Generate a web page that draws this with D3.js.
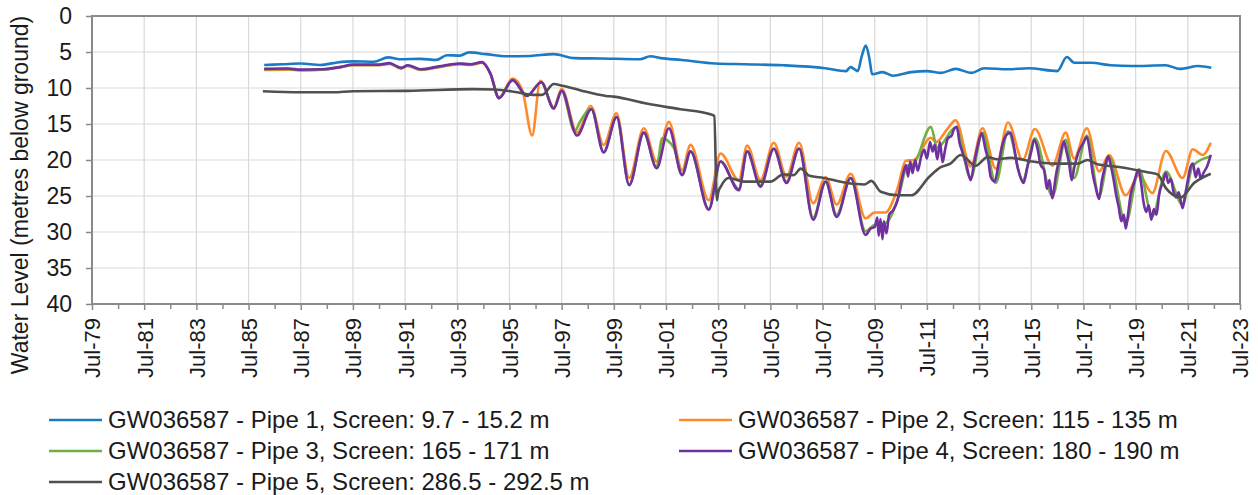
<!DOCTYPE html>
<html><head><meta charset="utf-8">
<script src="https://cdn.jsdelivr.net/npm/d3@7/dist/d3.min.js"></script>
<style>body{margin:0;background:#fff;} svg{display:block;} text{font-family:"Liberation Sans",Arial,sans-serif;fill:#1a1a1a;}</style>
</head><body><svg id="c" width="1258" height="495"></svg>
<script>
// ---- DATA (decimal year, metres below ground) ----
const xTickYears = d3.range(1979, 2024, 2);           // Jul-79 ... Jul-23
const yTicks = [0,5,10,15,20,25,30,35,40];
const seriesNames = [
  "GW036587 - Pipe 1, Screen: 9.7 - 15.2 m",
  "GW036587 - Pipe 2, Screen: 115 - 135 m",
  "GW036587 - Pipe 3, Screen: 165 - 171 m",
  "GW036587 - Pipe 4, Screen: 180 - 190 m",
  "GW036587 - Pipe 5, Screen: 286.5 - 292.5 m"
];
const pipe1 = [[1986.1,6.8],[1986.8,6.7],[1987.5,6.6],[1988.25,6.8],[1988.9,6.45],[1989.5,6.3],[1990.3,6.35],[1990.85,5.75],[1991.3,6.0],[1992.1,5.95],[1992.7,6.1],[1993.1,5.45],[1993.6,5.5],[1993.95,5.05],[1994.6,5.3],[1995.4,5.6],[1996.3,5.55],[1997.2,5.3],[1998.0,5.85],[1999.0,5.9],[2000.5,6.0],[2000.9,5.6],[2001.3,5.85],[2002.1,6.1],[2003.4,6.6],[2004.5,6.7],[2006.0,6.85],[2007.6,7.25],[2008.4,7.65],[2008.57,7.1],[2008.85,7.65],[2009.0,5.6],[2009.16,4.1],[2009.3,6.0],[2009.4,8.1],[2009.8,7.8],[2010.2,8.3],[2010.9,7.8],[2011.5,7.65],[2012.05,7.9],[2012.6,7.35],[2013.2,7.9],[2013.7,7.25],[2014.6,7.4],[2015.4,7.25],[2016.5,7.65],[2016.86,5.7],[2017.15,6.5],[2017.8,6.5],[2018.55,6.85],[2019.35,6.95],[2020.65,6.85],[2021.2,7.35],[2021.9,6.95],[2022.4,7.2]];
const pipe2 = [[1986.1,7.5],[1987.0,7.45],[1987.5,7.55],[1988.3,7.45],[1989.0,7.15],[1989.5,6.85],[1990.5,6.85],[1990.9,6.65],[1991.35,7.3],[1991.6,6.95],[1992.1,7.5],[1992.8,7.1],[1993.6,6.7],[1994.0,6.8],[1994.45,6.5],[1994.77,8.0],[1995.1,11.3],[1995.62,8.7],[1996.0,10.4],[1996.37,16.6],[1996.68,9.0],[1997.2,12.7],[1997.5,10.1],[1998.09,16.2],[1998.62,12.5],[1999.11,17.9],[1999.6,13.5],[2000.09,22.5],[2000.65,15.6],[2001.14,20.2],[2001.61,14.7],[2002.12,21.4],[2002.44,17.9],[2003.14,25.6],[2003.59,19.1],[2004.29,22.8],[2004.61,18.0],[2005.12,22.8],[2005.63,17.6],[2006.12,22.3],[2006.6,17.6],[2007.14,26.0],[2007.62,22.4],[2008.04,26.2],[2008.58,21.9],[2009.15,28.1],[2009.5,27.3],[2009.9,27.3],[2010.37,24.0],[2010.69,20.1],[2011.0,20.0],[2011.65,16.9],[2011.85,17.5],[2012.3,15.6],[2012.6,14.5],[2013.18,20.9],[2013.63,15.6],[2014.14,21.2],[2014.61,14.8],[2015.17,20.0],[2015.64,15.7],[2016.31,20.8],[2016.82,16.2],[2017.14,19.8],[2017.63,15.6],[2018.1,21.6],[2018.48,19.3],[2019.12,24.9],[2019.63,22.1],[2020.14,24.6],[2020.66,18.75],[2021.3,22.5],[2021.69,18.5],[2022.07,19.3],[2022.38,17.6]];
const pipe3 = [[1986.1,7.4],[1987.0,7.35],[1987.5,7.5],[1988.3,7.45],[1989.0,7.1],[1989.5,6.8],[1990.5,6.8],[1990.9,6.6],[1991.35,7.25],[1991.6,6.9],[1992.1,7.45],[1992.8,7.05],[1993.6,6.65],[1994.0,6.75],[1994.45,6.45],[1994.77,8.0],[1995.1,11.4],[1995.62,8.9],[1996.17,11.1],[1996.72,9.2],[1997.2,12.85],[1997.5,10.4],[1998.0,16.0],[1998.2,14.7],[1998.64,12.9],[1999.11,18.9],[1999.61,14.0],[2000.09,23.4],[2000.65,16.2],[2001.14,21.0],[2001.35,17.0],[2001.8,18.3],[2002.12,22.0],[2002.44,18.8],[2003.14,26.8],[2003.59,20.2],[2004.29,24.0],[2004.61,18.8],[2005.12,23.5],[2005.63,18.5],[2006.12,23.0],[2006.6,18.4],[2007.14,28.0],[2007.62,23.0],[2008.04,27.6],[2008.58,22.5],[2009.15,29.9],[2009.5,29.0],[2009.9,28.8],[2010.4,25.3],[2010.75,20.8],[2011.0,20.5],[2011.65,15.4],[2011.9,18.3],[2012.6,15.5],[2013.18,22.5],[2013.63,16.2],[2014.14,23.2],[2014.61,16.0],[2015.17,22.8],[2015.64,17.0],[2016.31,25.0],[2016.82,17.2],[2017.14,22.5],[2017.63,16.6],[2018.1,25.0],[2018.48,19.6],[2019.12,28.8],[2019.63,21.3],[2020.14,27.8],[2020.66,21.6],[2021.3,26.2],[2021.69,20.8],[2022.38,19.5]];
const pipe4 = [[1986.1,7.35],[1987.0,7.3],[1987.5,7.45],[1988.3,7.4],[1989.0,7.1],[1989.5,6.75],[1990.5,6.75],[1990.9,6.55],[1991.35,7.2],[1991.6,6.85],[1992.1,7.4],[1992.8,7.0],[1993.6,6.6],[1994.0,6.7],[1994.45,6.4],[1994.77,8.0],[1995.1,11.4],[1995.62,8.9],[1996.17,11.1],[1996.72,9.2],[1997.2,12.85],[1997.5,10.4],[1998.09,16.6],[1998.64,12.95],[1999.11,18.95],[1999.61,14.05],[2000.09,23.5],[2000.65,16.2],[2001.14,21.15],[2001.61,15.6],[2002.12,22.1],[2002.44,18.8],[2003.14,26.9],[2003.59,20.2],[2004.29,24.2],[2004.61,18.8],[2005.12,23.7],[2005.63,18.4],[2006.12,23.2],[2006.6,18.4],[2007.14,28.3],[2007.62,23.0],[2008.04,27.9],[2008.58,22.5],[2009.15,30.4],[2009.35,29.5],[2009.5,29.3],[2009.6,28.0],[2009.65,30.5],[2009.72,28.2],[2009.8,31.0],[2009.85,28.5],[2009.95,30.2],[2010.05,27.6],[2010.2,27.0],[2010.37,25.6],[2010.55,22.5],[2010.7,20.7],[2010.78,22.3],[2010.86,20.2],[2010.95,21.8],[2011.05,20.0],[2011.15,21.5],[2011.28,19.5],[2011.4,18.6],[2011.5,19.8],[2011.62,17.5],[2011.72,18.8],[2011.8,17.9],[2011.9,19.9],[2012.0,17.5],[2012.1,20.3],[2012.2,18.5],[2012.3,17.0],[2012.45,16.6],[2012.55,15.6],[2012.65,15.4],[2012.75,17.6],[2012.85,18.8],[2013.0,20.5],[2013.18,22.8],[2013.3,20.6],[2013.45,18.0],[2013.6,16.3],[2013.75,18.6],[2013.85,20.0],[2013.95,22.4],[2014.1,23.0],[2014.25,20.5],[2014.4,17.8],[2014.55,16.5],[2014.7,16.2],[2014.85,18.4],[2014.95,20.6],[2015.05,22.0],[2015.2,23.2],[2015.35,21.0],[2015.5,18.8],[2015.62,17.2],[2015.75,18.6],[2015.85,20.6],[2016.0,21.5],[2016.1,24.0],[2016.2,22.8],[2016.3,25.3],[2016.45,22.0],[2016.6,19.5],[2016.75,17.4],[2016.85,18.8],[2016.95,20.5],[2017.05,22.8],[2017.15,21.0],[2017.3,19.0],[2017.5,17.6],[2017.63,16.8],[2017.75,19.0],[2017.85,21.8],[2017.95,23.5],[2018.1,25.4],[2018.2,23.0],[2018.3,21.3],[2018.45,19.5],[2018.55,20.8],[2018.65,22.6],[2018.75,24.8],[2018.85,26.5],[2018.95,28.5],[2019.05,27.6],[2019.12,29.5],[2019.2,27.8],[2019.3,25.0],[2019.45,23.0],[2019.6,21.4],[2019.72,23.5],[2019.8,25.8],[2019.9,27.2],[2020.0,26.3],[2020.1,28.3],[2020.2,26.8],[2020.3,27.6],[2020.4,24.8],[2020.55,23.0],[2020.66,21.8],[2020.75,23.2],[2020.85,22.6],[2020.95,24.4],[2021.05,25.2],[2021.15,24.5],[2021.3,26.7],[2021.4,24.8],[2021.5,22.8],[2021.6,21.0],[2021.7,20.5],[2021.8,22.4],[2021.9,21.2],[2022.0,22.6],[2022.1,21.8],[2022.25,20.8],[2022.38,19.3]];
const pipe5 = [[1986.05,10.45],[1987.5,10.6],[1988.75,10.6],[1989.5,10.45],[1991.6,10.4],[1994.1,10.15],[1994.9,10.2],[1995.8,10.6],[1996.4,10.95],[1996.75,10.95],[1997.2,9.45],[1997.55,9.7],[1998.2,10.3],[1999.2,11.1],[1999.5,11.2],[2000.8,12.2],[2002.05,12.95],[2003.2,13.65],[2003.35,13.9],[2003.45,25.6],[2003.5,24.5],[2003.6,23.7],[2003.9,22.5],[2004.5,23.0],[2005.5,23.0],[2006.0,22.0],[2006.4,22.1],[2006.66,21.2],[2007.0,22.2],[2007.55,22.5],[2008.45,23.2],[2009.1,23.4],[2009.37,22.9],[2009.73,24.4],[2010.4,24.9],[2010.9,24.9],[2011.6,22.3],[2012.03,21.0],[2012.4,20.5],[2012.8,19.3],[2013.37,20.8],[2013.82,19.6],[2014.2,19.9],[2014.7,19.7],[2015.5,20.2],[2016.4,20.5],[2017.27,20.5],[2017.65,20.0],[2018.04,20.6],[2018.93,21.0],[2019.95,21.7],[2020.34,22.0],[2020.66,23.9],[2021.23,25.2],[2021.74,23.2],[2022.38,21.9]];
const seriesData = [pipe1, pipe2, pipe3, pipe4, pipe5];
const colors = ["#1a7bc4", "#ff8a2b", "#72b043", "#7030a0", "#505050"];

// ---- LAYOUT ----
const L = 92, R = 1240, T = 16, B = 304;
const svg = d3.select("#c");
const x = d3.scaleLinear().domain([1979.5, 2023.5]).range([L, R]);
const y = d3.scaleLinear().domain([0, 40]).range([T, B]);

// gridlines
const g = svg.append("g");
g.selectAll(".gy").data(yTicks).join("line")
  .attr("x1", L).attr("x2", R).attr("y1", d => y(d)).attr("y2", d => y(d))
  .attr("stroke", "#d9d9d9").attr("stroke-width", 1.2);
g.selectAll(".gx").data(xTickYears).join("line")
  .attr("x1", d => x(d + 0.5)).attr("x2", d => x(d + 0.5)).attr("y1", T).attr("y2", B)
  .attr("stroke", "#d9d9d9").attr("stroke-width", 1.2);

// series
const line = d3.line().x(d => x(d[0])).y(d => y(d[1])).curve(d3.curveMonotoneX);
seriesData.forEach((s, i) => {
  svg.append("path").datum(s).attr("d", line).attr("fill", "none")
    .attr("stroke", colors[i]).attr("stroke-width", 2.6).attr("stroke-linejoin", "round");
});

// border
svg.append("rect").attr("x", L).attr("y", T).attr("width", R - L).attr("height", B - T)
  .attr("fill", "none").attr("stroke", "#8a8a8a").attr("stroke-width", 2);

// y axis
const yAxis = d3.axisLeft(y).tickValues(yTicks).tickSize(6).tickPadding(14).tickFormat(d3.format("d"));
const ya = svg.append("g").attr("transform", `translate(${L},0)`).call(yAxis);
ya.select(".domain").remove();
ya.selectAll("line").attr("stroke", "#8a8a8a").attr("stroke-width", 1.5);
ya.selectAll("text").style("font-size", "23px").attr("fill", "#1a1a1a");

// x axis major
const monthFmt = yr => "Jul-" + String(yr % 100).padStart(2, "0");
const xAxis = d3.axisBottom(x).tickValues(xTickYears.map(d => d + 0.5)).tickSize(6)
  .tickFormat(d => monthFmt(Math.floor(d)));
const xa = svg.append("g").attr("transform", `translate(0,${B})`).call(xAxis);
xa.select(".domain").remove();
xa.selectAll("line").attr("stroke", "#8a8a8a").attr("stroke-width", 1.5);
xa.selectAll("text").style("font-size", "22px").attr("fill", "#1a1a1a")
  .attr("text-anchor", "end").attr("transform", "rotate(-90)")
  .attr("x", -14).attr("y", 0).attr("dy", "0.36em");
// x axis minor
const xMinor = d3.axisBottom(x).tickValues(xTickYears.slice(0, -1).map(d => d + 1.5)).tickSize(5).tickFormat("");
const xm = svg.append("g").attr("transform", `translate(0,${B})`).call(xMinor);
xm.select(".domain").remove();
xm.selectAll("line").attr("stroke", "#8a8a8a").attr("stroke-width", 1.5);

// y title
svg.append("text").attr("transform", `translate(28,195) rotate(-90)`)
  .attr("text-anchor", "middle").style("font-size", "23px").text("Water Level (metres below ground)");

// legend
const legPos = [[49, 420], [679, 420], [49, 451], [679, 451], [49, 482]];
seriesNames.forEach((n, i) => {
  const [lx, ly] = legPos[i];
  svg.append("line").attr("x1", lx).attr("x2", lx + 53).attr("y1", ly).attr("y2", ly)
    .attr("stroke", colors[i]).attr("stroke-width", 2.6);
  svg.append("text").attr("x", lx + 59).attr("y", ly).attr("dy", "0.35em")
    .style("font-size", "24px").text(n);
});
</script></body></html>
